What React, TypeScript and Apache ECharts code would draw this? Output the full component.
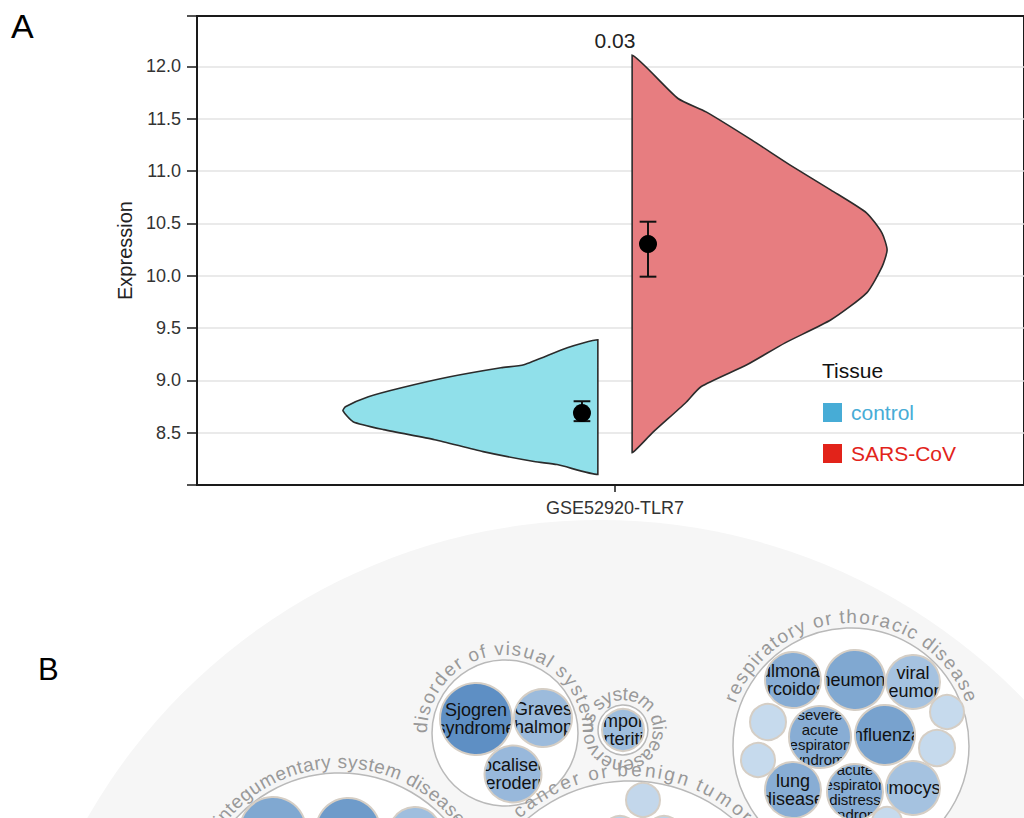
import { useEffect, useRef } from 'react';
import * as echarts from 'echarts';

const FONT = "'Liberation Sans', Arial, Helvetica, sans-serif";

// ---------- Panel A data ----------
const category = ['GSE52920-TLR7'];
const tissues = ['control', 'SARS-CoV'];
const legendColors = ['#47acd6', '#e2231a'];
const violinFills = ['#90e0ea', '#e77d80'];

const controlExpr = [9.387, 9.311, 9.149, 9.12, 9.034, 8.929, 8.843, 8.748, 8.71, 8.605, 8.529, 8.433, 8.319, 8.224, 8.195, 8.1];
const controlDensity = [0.0, 0.12, 0.29, 0.38, 0.58, 0.77, 0.9, 0.99, 1.0, 0.96, 0.84, 0.64, 0.45, 0.25, 0.16, 0.0];
const sarsExpr = [12.105, 11.692, 11.564, 11.294, 11.056, 10.817, 10.598, 10.407, 10.245, 10.083, 9.835, 9.578, 9.358, 9.148, 8.939, 8.786, 8.5, 8.309];
const sarsDensity = [0.0, 0.18, 0.29, 0.47, 0.62, 0.78, 0.92, 0.98, 1.0, 0.98, 0.92, 0.78, 0.6, 0.45, 0.27, 0.21, 0.08, 0.0];
const meanExpr = [8.688, 10.302];
const errLow = [8.61, 9.99];
const errHigh = [8.8, 10.515];
const pValueLabel = ['0.03'];
const pValueY = [12.25];

// ---------- Panel B data (circle packing layout) ----------
const bgX = [600];
const bgY = [1110];
const bgR = [590];

const groupNames = [
  'disorder of visual system',
  'nervous system disease',
  'respiratory or thoracic disease',
  'integumentary system disease',
  'cancer or benign tumor',
];
const groupX = [505, 623, 851, 340, 630];
const groupY = [733, 730, 746, 915, 939];
const groupR = [73, 25, 118, 142, 158];
const labelStartDeg = [-181, -270, -160, -143, -133];
const labelEndDeg = [1, 90, -20, -37, -45];

const diseaseNames = [
  'Sjogren\nsyndrome',
  'Graves\nophthalmopathy',
  'localised\nscleroderma',
  'temporal\narteritis',
  'pulmonary\nsarcoidosis',
  'pneumonia',
  'viral\npneumonia',
  '',
  'severe\nacute\nrespiratory\nsyndrome',
  'influenza',
  '',
  '',
  '',
  'lung\ndisease',
  'acute\nrespiratory\ndistress\nsyndrome',
  'pneumocystosis',
  '',
  '',
  '',
  '',
  '',
  '',
  '',
];
const diseaseX = [476, 543, 513, 623, 793, 855, 913, 768, 820, 885, 947, 937, 758, 793, 855, 913, 887, 273, 348, 415, 643, 620, 664];
const diseaseY = [719, 718, 774, 730, 680, 680, 682, 722, 737, 735, 712, 748, 760, 790, 792, 788, 822, 830, 830, 833, 800, 834, 834];
const diseaseR = [36, 29, 28.5, 21, 28, 30, 27, 18, 31, 30, 17, 18, 17, 28, 28, 27, 15, 33, 32, 26, 17, 18, 18];
const diseaseScore = [0.92, 0.45, 0.48, 0.42, 0.6, 0.66, 0.38, 0.12, 0.6, 0.72, 0.12, 0.12, 0.12, 0.6, 0.6, 0.38, 0.12, 0.66, 0.8, 0.42, 0.15, 0.2, 0.2];

// ---------- styling constants ----------
const X_MIN = -1;
const X_MAX = 0.9785;
const HALF_W = 0.61;
const DODGE = 0.041;
const DOT_OFF = 0.079;
const CAP = 0.02;

function shade(s: number) {
  const a = [214, 229, 243];
  const b = [84, 136, 192];
  return `rgb(${a.map((v, i) => Math.round(v + (b[i] - v) * s)).join(',')})`;
}

let measureCtx: CanvasRenderingContext2D | null = null;
function charWidths(text: string, size: number) {
  if (!measureCtx) measureCtx = document.createElement('canvas').getContext('2d');
  const ctx = measureCtx as CanvasRenderingContext2D;
  ctx.font = `${size}px ${FONT}`;
  return Array.from(text).map((c) => ctx.measureText(c).width);
}

function violinRender(side: number, expr: number[], dens: number[], idx: number) {
  return (_params: any, api: any) => {
    const pts: number[][] = expr.map((v, i) => api.coord([side * (DODGE + dens[i] * HALF_W), v]));
    const vEnd = expr[expr.length - 1];
    const vStart = expr[0];
    const n = 12;
    for (let j = 1; j < n; j++) {
      const v = vEnd + ((vStart - vEnd) * j) / n;
      pts.push(api.coord([side * DODGE, v]));
    }
    let minX = Infinity, minY = Infinity, maxX = -Infinity, maxY = -Infinity;
    pts.forEach((p) => {
      minX = Math.min(minX, p[0]); maxX = Math.max(maxX, p[0]);
      minY = Math.min(minY, p[1]); maxY = Math.max(maxY, p[1]);
    });
    const xm = side * DOT_OFF;
    const top = api.coord([xm, errHigh[idx]]);
    const bot = api.coord([xm, errLow[idx]]);
    const mid = api.coord([xm, meanExpr[idx]]);
    const cl = api.coord([xm - CAP, meanExpr[idx]])[0];
    const cr = api.coord([xm + CAP, meanExpr[idx]])[0];
    return {
      type: 'group',
      children: [
        {
          type: 'polygon',
          shape: { points: pts, smooth: 0.2, smoothConstraint: [[minX, minY], [maxX, maxY]] },
          style: { fill: violinFills[idx], stroke: '#2b2b2b', lineWidth: 1.6 },
        },
        { type: 'line', shape: { x1: top[0], y1: top[1], x2: bot[0], y2: bot[1] }, style: { stroke: '#111', lineWidth: 2 } },
        { type: 'line', shape: { x1: cl, y1: top[1], x2: cr, y2: top[1] }, style: { stroke: '#111', lineWidth: 2 } },
        { type: 'line', shape: { x1: cl, y1: bot[1], x2: cr, y2: bot[1] }, style: { stroke: '#111', lineWidth: 2 } },
        { type: 'circle', shape: { cx: mid[0], cy: mid[1], r: 9 }, style: { fill: '#000' } },
      ],
    };
  };
}

export default function App() {
  const ref = useRef<HTMLDivElement>(null);
  useEffect(() => {
    if (!ref.current) return;
    const chart = echarts.init(ref.current, undefined, { renderer: 'svg' });

    const option: any = {
      animation: false,
      backgroundColor: '#ffffff',
      textStyle: { fontFamily: FONT },
      grid: [
        { left: 197, top: 16, right: 0, height: 469, show: true, borderColor: '#1a1a1a', borderWidth: 2, backgroundColor: 'transparent' },
        { left: 0, top: 0, width: 1024, height: 818, show: false },
      ],
      xAxis: [
        {
          type: 'value', gridIndex: 0, min: X_MIN, max: X_MAX,
          axisLine: { show: true, onZero: false, lineStyle: { color: '#1a1a1a', width: 2 } },
          axisTick: { show: true, customValues: [0], length: 7, lineStyle: { color: '#1a1a1a', width: 1.5 } },
          axisLabel: { customValues: [0], formatter: () => category[0], color: '#333', fontSize: 18, margin: 14, fontFamily: FONT },
          splitLine: { show: false },
        },
        { type: 'value', gridIndex: 1, min: 0, max: 1024, show: false },
      ],
      yAxis: [
        {
          type: 'value', gridIndex: 0, min: 8, max: 12.48, interval: 0.5,
          name: 'Expression', nameLocation: 'middle', nameGap: 56,
          nameTextStyle: { fontSize: 20, color: '#222', fontFamily: FONT },
          axisLine: { show: true, onZero: false, lineStyle: { color: '#1a1a1a', width: 2 } },
          axisTick: { show: true, length: 10, lineStyle: { color: '#1a1a1a', width: 1.5 } },
          axisLabel: {
            color: '#333', fontSize: 18, margin: 16, fontFamily: FONT,
            formatter: (v: number) => (v < 8.25 || v > 12.1 ? '' : v.toFixed(1)),
          },
          splitLine: { show: true, showMinLine: false, showMaxLine: false, lineStyle: { color: '#e3e3e3', width: 1.5 } },
        },
        { type: 'value', gridIndex: 1, min: 0, max: 818, inverse: true, show: false },
      ],
      legend: {
        orient: 'vertical', left: 823, top: 402, padding: 0,
        itemWidth: 19, itemHeight: 19, itemGap: 20, icon: 'rect',
        textStyle: { fontSize: 21, fontFamily: FONT, padding: [0, 0, 0, 4] },
        data: tissues.map((t, i) => ({ name: t, itemStyle: { color: legendColors[i] }, textStyle: { color: legendColors[i] } })),
      },
      graphic: [
        { type: 'text', left: 11, top: 9, style: { text: 'A', fontSize: 34, fill: '#000', fontFamily: FONT } },
        { type: 'text', left: 38, top: 654, style: { text: 'B', fontSize: 31, fill: '#000', fontFamily: FONT } },
        { type: 'text', left: 822, top: 360, style: { text: 'Tissue', fontSize: 21, fill: '#111', fontFamily: FONT } },
      ],
      series: [
        {
          name: 'background', type: 'custom', xAxisIndex: 1, yAxisIndex: 1, z: 1,
          data: bgX.map((x, i) => [x, bgY[i], bgR[i]]),
          renderItem: (_params: any, api: any) => {
            const c = api.coord([api.value(0), api.value(1)]);
            const r = Math.abs(api.size([api.value(2), 0])[0]);
            return { type: 'circle', shape: { cx: c[0], cy: c[1], r }, style: { fill: '#f6f6f6' } };
          },
        },
        {
          name: 'control', type: 'custom', xAxisIndex: 0, yAxisIndex: 0,
          data: [[0, meanExpr[0]]],
          renderItem: violinRender(-1, controlExpr, controlDensity, 0),
        },
        {
          name: 'SARS-CoV', type: 'custom', xAxisIndex: 0, yAxisIndex: 0,
          data: [[0, meanExpr[1]]],
          renderItem: violinRender(1, sarsExpr, sarsDensity, 1),
        },
        {
          name: 'pvalue', type: 'custom', xAxisIndex: 0, yAxisIndex: 0,
          data: pValueY.map((y) => [0, y]),
          renderItem: (params: any, api: any) => {
            const p = api.coord([api.value(0), api.value(1)]);
            return {
              type: 'text',
              style: { x: p[0], y: p[1], text: pValueLabel[params.dataIndex], fontSize: 21, fill: '#222', fontFamily: FONT, align: 'center', verticalAlign: 'middle' },
            };
          },
        },
        {
          name: 'groups', type: 'custom', xAxisIndex: 1, yAxisIndex: 1,
          data: groupX.map((x, i) => [x, groupY[i], groupR[i]]),
          renderItem: (params: any, api: any) => {
            const i = params.dataIndex;
            const c = api.coord([api.value(0), api.value(1)]);
            const r = Math.abs(api.size([api.value(2), 0])[0]);
            const text = groupNames[i];
            const size = 19;
            const ws = charWidths(text, size);
            const total = ws.reduce((s, w) => s + w, 0);
            const a0 = (labelStartDeg[i] * Math.PI) / 180;
            const a1 = (labelEndDeg[i] * Math.PI) / 180;
            const k = (a1 - a0) / total;
            const R = r + 2;
            let acc = 0;
            const chars: any[] = [];
            Array.from(text).forEach((ch, j) => {
              const a = a0 + (acc + ws[j] / 2) * k;
              acc += ws[j];
              if (ch === ' ') return;
              chars.push({
                type: 'text',
                x: c[0] + R * Math.cos(a),
                y: c[1] + R * Math.sin(a),
                rotation: -(a + Math.PI / 2),
                style: { text: ch, fontSize: size, fontFamily: FONT, fill: '#999999', align: 'center', verticalAlign: 'bottom' },
              });
            });
            return {
              type: 'group',
              children: [
                { type: 'circle', shape: { cx: c[0], cy: c[1], r }, style: { fill: '#ffffff', stroke: '#b9b9b9', lineWidth: 1.5 } },
                ...chars,
              ],
            };
          },
        },
        {
          name: 'diseases', type: 'custom', xAxisIndex: 1, yAxisIndex: 1,
          data: diseaseX.map((x, i) => [x, diseaseY[i], diseaseR[i], diseaseScore[i]]),
          renderItem: (params: any, api: any) => {
            const i = params.dataIndex;
            const c = api.coord([api.value(0), api.value(1)]);
            const r = Math.abs(api.size([api.value(2), 0])[0]);
            const name = diseaseNames[i];
            const children: any[] = [
              { type: 'circle', shape: { cx: c[0], cy: c[1], r }, style: { fill: shade(api.value(3)), stroke: '#d5cec5', lineWidth: 2 } },
            ];
            if (name) {
              const lines = name.split('\n').length;
              const fs = lines > 2 ? 15 : 18;
              const lh = lines > 2 ? 15 : 18;
              children.push({
                type: 'text',
                style: { x: c[0], y: c[1], text: name, fontSize: fs, lineHeight: lh, fontFamily: FONT, fill: '#111', align: 'center', verticalAlign: 'middle' },
                clipPath: { type: 'circle', shape: { cx: c[0], cy: c[1], r: r - 1 } },
              });
            }
            return { type: 'group', children };
          },
        },
      ],
    };

    chart.setOption(option);
    return () => chart.dispose();
  }, []);

  return <div ref={ref} style={{ position: 'fixed', left: 0, top: 0, width: 1024, height: 818 }} />;
}
